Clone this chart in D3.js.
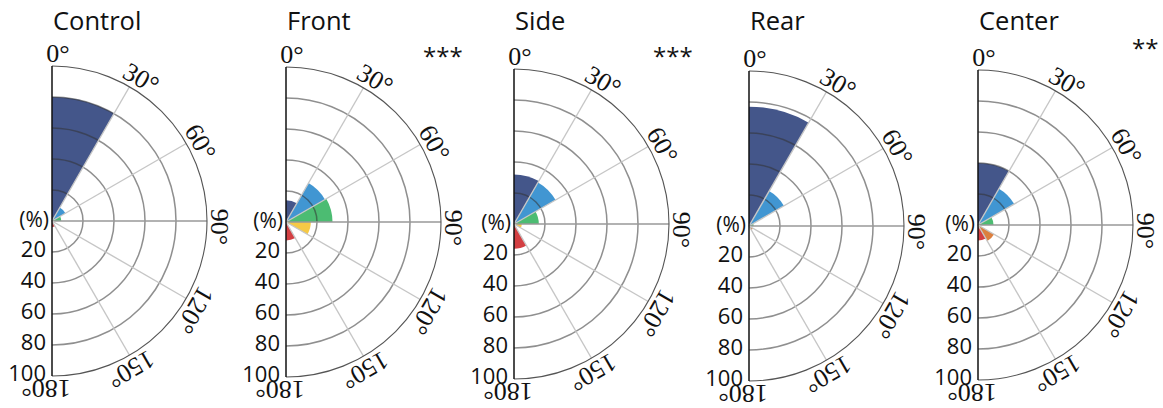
<!DOCTYPE html>
<html><head><meta charset="utf-8">
<script src="https://cdn.jsdelivr.net/npm/d3@7"></script>
<style>body{margin:0;background:#fff}svg{display:block}</style>
</head><body><svg id="chart" width="1163" height="408"></svg>
<script>
// ---- data ----
const panels = ["Control", "Front", "Side", "Rear", "Center"];
const significance = ["", "***", "***", "", "**"];
const binStarts = [0, 30, 60, 90, 120, 150];
const angleTicks = [0, 30, 60, 90, 120, 150, 180];
const angleLabels = ["0°", "30°", "60°", "90°", "120°", "150°", "180°"];
const radialTicks = [20, 40, 60, 80, 100];
const radialLabels = ["20", "40", "60", "80", "100"];
const controlValues = [80, 10, 6, 0, 0, 4];
const frontValues = [14, 29, 30, 16, 0, 12];
const sideValues = [32, 31, 16, 5, 0, 16];
const rearValues = [77, 26, 3, 0, 3, 0];
const centerValues = [40, 27, 10, 0, 12, 10];
const binColors = ["#44568a", "#4196d2", "#4cbc72", "#f6c945", "#dc7f3e", "#d33f42"];

const seriesValues = [controlValues, frontValues, sideValues, rearValues, centerValues];

// ---- layout ----
const panelCx = [52, 286, 514, 749, 978];
const panelCy = [221, 222, 224, 226, 225];
const starX = [0, 423, 653, 0, 1132];
const starY = [0, 65, 65, 0, 57];
const R = 155;
const serif = "'Liberation Serif', 'DejaVu Serif', 'Times New Roman', serif";
const sans = "'Open Sans', 'Noto Sans', sans-serif";

const svg = d3.select("#chart");
const r = d3.scaleLinear().domain([0, 100]).range([0, R]);
const ang = d3.scaleLinear().domain([0, 180]).range([0, Math.PI]);
const arc = d3.arc().innerRadius(0)
  .outerRadius(d => r(d.v))
  .startAngle(d => ang(d.a0))
  .endAngle(d => ang(d.a0 + 30));

panels.forEach((name, i) => {
  const cx = panelCx[i], cy = panelCy[i];
  const g = svg.append("g").attr("transform", `translate(${cx},${cy})`);
  const data = binStarts.map((a0, k) => ({a0, v: seriesValues[i][k], c: binColors[k]}));

  // bars
  g.selectAll("path.bar").data(data.filter(d => d.v > 0)).join("path")
    .attr("class", "bar").attr("d", arc).attr("fill", d => d.c);

  // rings
  radialTicks.slice(0, -1).forEach(t => {
    const p = d3.path();
    p.moveTo(0, -r(t));
    p.arc(0, 0, r(t), -Math.PI / 2, Math.PI / 2);
    g.append("path").attr("d", p.toString()).attr("fill", "none")
      .attr("stroke", "#333").attr("stroke-opacity", 0.55).attr("stroke-width", 1.5);
  });
  // spokes
  angleTicks.slice(1, -1).forEach(a => {
    const x = r(100) * Math.sin(ang(a)), y = -r(100) * Math.cos(ang(a));
    g.append("line").attr("x1", 0).attr("y1", 0).attr("x2", x).attr("y2", y)
      .attr("stroke", a === 90 ? "#999" : "#c6c6c6").attr("stroke-width", 1.4);
  });
  // outer arc
  const po = d3.path();
  po.moveTo(0, -r(100));
  po.arc(0, 0, r(100), -Math.PI / 2, Math.PI / 2);
  g.append("path").attr("d", po.toString()).attr("fill", "none")
    .attr("stroke", "#555").attr("stroke-width", 1.1);
  // vertical axis
  g.append("line").attr("x1", 0).attr("x2", 0).attr("y1", -r(100)).attr("y2", r(100))
    .attr("stroke", "#111").attr("stroke-width", 1.5);

  // angle labels
  angleTicks.forEach((a, k) => {
    const rr = 168, aa = ang(a + 2);
    g.append("text")
      .attr("transform", `translate(${rr * Math.sin(aa)},${-rr * Math.cos(aa)}) rotate(${a})`)
      .attr("text-anchor", "middle").attr("dominant-baseline", "central")
      .style("font-family", serif)
      .attr("font-size", 26).attr("fill", "#111").text(angleLabels[k]);
  });

  // radial labels
  radialTicks.forEach((t, k) => {
    g.append("text").attr("x", -6).attr("y", r(t) + 5)
      .attr("text-anchor", "end").style("font-family", sans)
      .attr("font-size", 22).attr("fill", "#111").text(radialLabels[k]);
  });
  g.append("text").attr("x", -3).attr("y", 6)
    .attr("text-anchor", "end").style("font-family", sans)
    .attr("font-size", 21).attr("fill", "#111").text("(%)");

  // title
  svg.append("text").attr("x", cx + 1).attr("y", 30)
    .style("font-family", sans).attr("font-size", 25.5)
    .attr("fill", "#111").text(name);

  if (significance[i]) {
    svg.append("text").attr("x", starX[i]).attr("y", starY[i])
      .style("font-family", sans).attr("font-size", 24)
      .attr("fill", "#111").text(significance[i]);
  }
});
</script>
</body></html>
